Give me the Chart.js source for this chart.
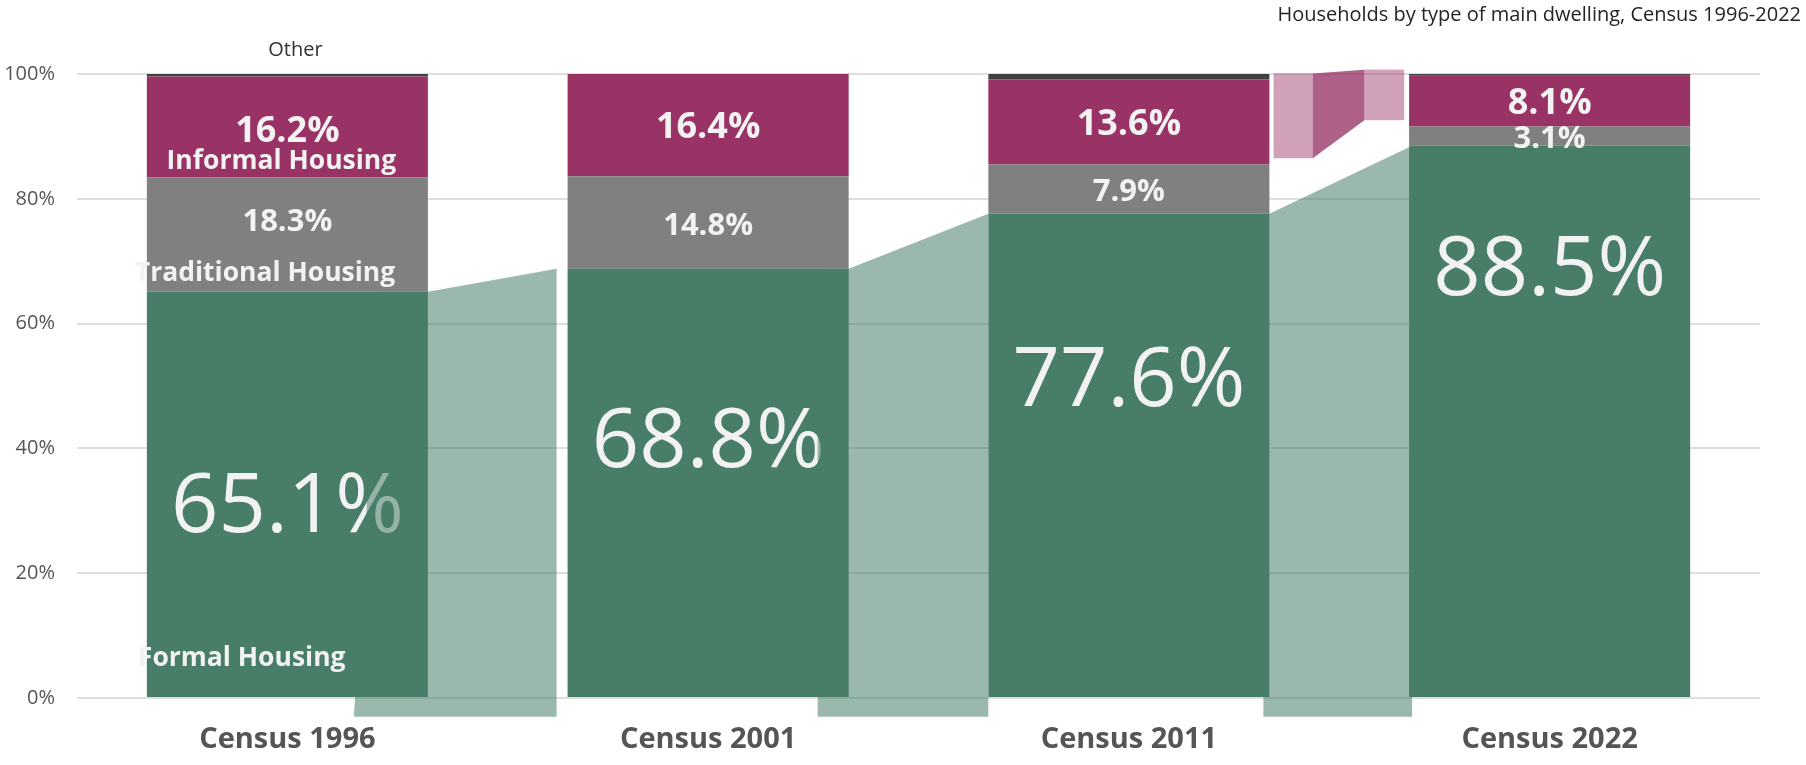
<!DOCTYPE html>
<html>
<head>
<meta charset="utf-8">
<script src="https://cdn.jsdelivr.net/npm/chart.js@4.4.1/dist/chart.umd.min.js"></script>
<style>
  html, body { margin: 0; padding: 0; background: #fff; }
  #dwellingChart { display: block; }
</style>
</head>
<body>
<canvas id="dwellingChart" width="1806" height="765"></canvas>
<script>
// ============================================================
// DATA - households by type of main dwelling (% of households)
// ============================================================
const censusYears = ['Census 1996', 'Census 2001', 'Census 2011', 'Census 2022'];
const formalPct = [65.1, 68.8, 77.6, 88.5];
const traditionalPct = [18.3, 14.8, 7.9, 3.1];
const informalPct = [16.2, 16.4, 13.6, 8.1];
const otherPct = [0.4, 0, 0.9, 0.3];
const seriesNames = ['Formal Housing', 'Traditional Housing', 'Informal Housing', 'Other'];
const yTicks = [0, 20, 40, 60, 80, 100];
const chartTitle = 'Households by type of main dwelling, Census 1996-2022';

// ============================================================
// STYLE
// ============================================================
const FONT = '"Open Sans", "Noto Sans", sans-serif';
const COLORS = { formal: '#487E67', traditional: '#808080', informal: '#993366', other: '#404040' };
const LABEL_COLOR = '#f2f2f2';
const bigLabelLevel = [31.4, 41.8, 51.6, 69.4];   // axis level where the big formal % sits
// ribbon between bars drawn half-way through its transition (px cut-ins)
const ribbonCut = [
  { leftBottom: 74, leftTop: 48, right: -11 },
  { leftBottom: 31, leftTop: 31, right: 0 },
  { leftBottom: 6, leftTop: 6, right: 3 }
];
const ribbonFloor = -3;
const informalLift = 1;

function capText(ctx, txt, x, cy, size, weight, align) {
  ctx.font = `${weight} ${size}px ${FONT}`;
  ctx.textAlign = align || 'center';
  ctx.textBaseline = 'alphabetic';
  ctx.fillText(txt, x, cy + size * 0.357);
}

const overlayPlugin = {
  id: 'overlay',
  afterDatasetsDraw(chart) {
    const ctx = chart.ctx, y = chart.scales.y;
    const metas = [0, 1, 2, 3].map(i => chart.getDatasetMeta(i));
    const bars = metas[0].data;
    const L = i => bars[i].x - bars[i].width / 2;
    const R = i => bars[i].x + bars[i].width / 2;
    const mid = el => (el.y + el.base) / 2;

    ctx.save();
    ctx.fillStyle = LABEL_COLOR;

    // value labels
    censusYears.forEach((c, i) => {
      const inf = metas[2].data[i], trad = metas[1].data[i];
      capText(ctx, informalPct[i].toFixed(1) + '%', inf.x, mid(inf) + (i === 0 ? 2 : 0), 36, 700);
      capText(ctx, traditionalPct[i].toFixed(1) + '%', trad.x, mid(trad) + (i === 0 ? -15 : 1), 31, 700);
      capText(ctx, formalPct[i].toFixed(1) + '%', bars[i].x, y.getPixelForValue(bigLabelLevel[i]), 83, 400);
    });

    // series names on the first bar
    const inf0 = metas[2].data[0], trad0 = metas[1].data[0];
    capText(ctx, seriesNames[2], inf0.x - 6, mid(inf0) + 32, 26.5, 700);
    capText(ctx, seriesNames[1], L(0) - 12, mid(trad0) + 36.5, 26.5, 700, 'left');
    capText(ctx, seriesNames[0], L(0) - 9, bars[0].base - 40, 26.5, 700, 'left');

    // formal housing ribbons
    ctx.fillStyle = 'rgba(72,126,103,0.55)';
    const yb = y.getPixelForValue(ribbonFloor);
    ribbonCut.forEach((cut, k) => {
      const y0 = y.getPixelForValue(formalPct[k]);
      const y1 = y.getPixelForValue(formalPct[k + 1]);
      const xr = L(k + 1) + cut.right;
      ctx.beginPath();
      ctx.moveTo(R(k) - cut.leftBottom, yb);
      ctx.lineTo(R(k) - cut.leftTop, y0);
      ctx.lineTo(R(k), y0);
      ctx.lineTo(xr, y1);
      ctx.lineTo(xr, yb);
      ctx.closePath();
      ctx.fill();
    });

    // informal housing ribbon 2011 -> 2022
    const b0 = y.getPixelForValue(formalPct[2] + traditionalPct[2] + informalLift);
    const t0 = y.getPixelForValue(formalPct[2] + traditionalPct[2] + informalPct[2] + informalLift);
    const b1 = y.getPixelForValue(formalPct[3] + traditionalPct[3] + informalLift);
    const t1 = y.getPixelForValue(formalPct[3] + traditionalPct[3] + informalPct[3] + informalLift);
    const gap = L(3) - R(2);
    const xs = [0.03, 0.31, 0.68, 0.965].map(f => R(2) + f * gap);
    ctx.fillStyle = 'rgba(153,51,102,0.46)';
    ctx.fillRect(xs[0], t0, xs[1] - xs[0], b0 - t0);
    ctx.fillRect(xs[2], t1, xs[3] - xs[2], b1 - t1);
    ctx.fillStyle = 'rgba(153,51,102,0.78)';
    ctx.beginPath();
    ctx.moveTo(xs[1], t0);
    ctx.lineTo(xs[2], t1);
    ctx.lineTo(xs[2], b1);
    ctx.lineTo(xs[1], b0);
    ctx.closePath();
    ctx.fill();

    ctx.restore();
  },
  afterDraw(chart) {
    const ctx = chart.ctx;
    const oth = chart.getDatasetMeta(3).data[0];
    ctx.save();
    ctx.fillStyle = '#333333';
    capText(ctx, seriesNames[3], oth.x + 8, oth.y - 25, 20, 400);
    ctx.fillStyle = '#252423';
    ctx.font = `400 20px ${FONT}`;
    ctx.textAlign = 'right';
    ctx.textBaseline = 'alphabetic';
    ctx.fillText(chartTitle, 1801, 21);
    ctx.restore();
  }
};

const ctx = document.getElementById('dwellingChart').getContext('2d');
const dwellingChart = new Chart(ctx, {
  type: 'bar',
  data: {
    labels: censusYears,
    datasets: [
      { label: seriesNames[0], data: formalPct, backgroundColor: COLORS.formal },
      { label: seriesNames[1], data: traditionalPct, backgroundColor: COLORS.traditional },
      { label: seriesNames[2], data: informalPct, backgroundColor: COLORS.informal },
      { label: seriesNames[3], data: otherPct, backgroundColor: COLORS.other }
    ]
  },
  options: {
    responsive: false,
    devicePixelRatio: 1,
    animation: false,
    layout: { padding: { top: 74, right: 46, bottom: 0, left: 0 } },
    datasets: { bar: { categoryPercentage: 1, barPercentage: 0.668, borderWidth: 0 } },
    plugins: { legend: { display: false }, tooltip: { enabled: false } },
    scales: {
      x: {
        stacked: true,
        grid: { display: false, drawTicks: false },
        border: { display: false },
        ticks: { color: '#555555', padding: 24, font: { family: FONT, size: 29, weight: 'bold' } },
        afterFit: s => { s.height = 67; }
      },
      y: {
        stacked: true,
        min: 0,
        max: 100,
        afterBuildTicks: s => { s.ticks = yTicks.map(v => ({ value: v })); },
        grid: { color: '#dedede', lineWidth: 2, drawTicks: false },
        border: { display: false },
        ticks: { color: '#555555', padding: 22, font: { family: FONT, size: 20 }, callback: v => v + '%' },
        afterFit: s => { s.width = 77; }
      }
    }
  },
  plugins: [overlayPlugin]
});
</script>
</body>
</html>
